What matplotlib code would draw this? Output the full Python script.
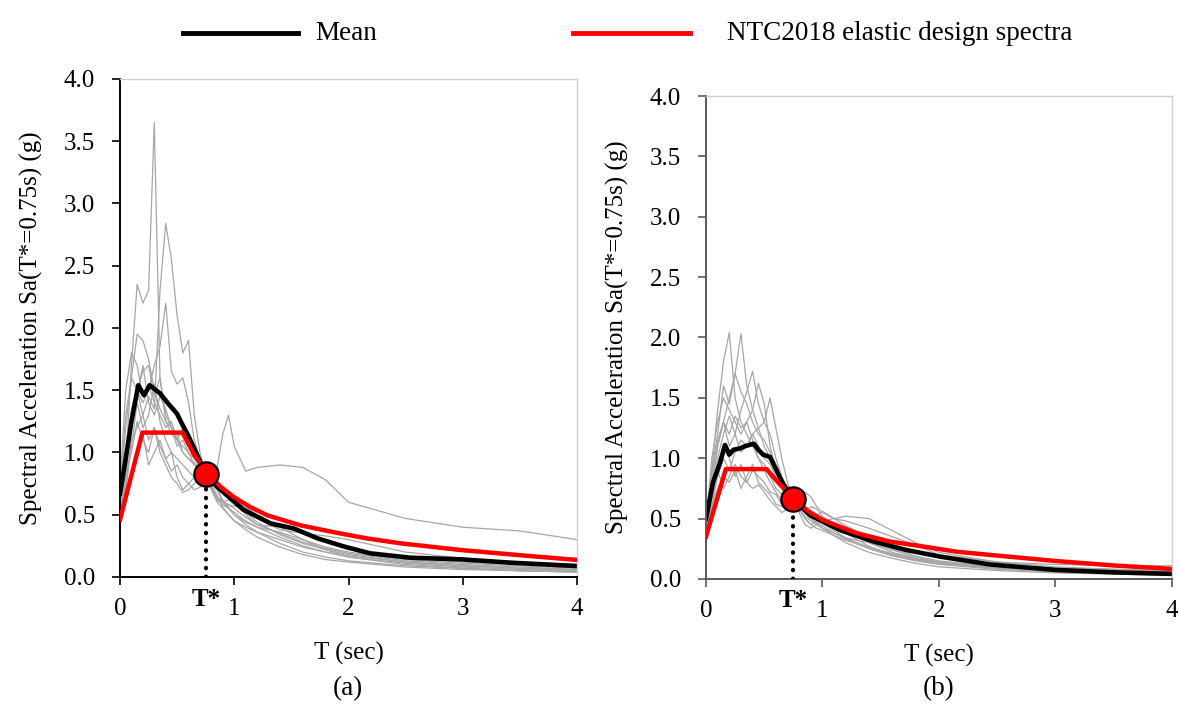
import numpy as np
import matplotlib
matplotlib.use("Agg")
import matplotlib.pyplot as plt
from matplotlib.lines import Line2D
from matplotlib.transforms import blended_transform_factory

plt.rcParams.update({
    "font.family": "Liberation Serif",
    "font.size": 18,
    "xtick.direction": "out",
    "ytick.direction": "out",
})

# ── Period grid for the scaled records ───────────────────────────────────────
T_REC = [0, 0.05, 0.1, 0.15, 0.2, 0.25, 0.3, 0.35, 0.4, 0.45, 0.5, 0.55, 0.6,
         0.65, 0.7, 0.75, 0.8, 0.85, 0.9, 0.95, 1.0, 1.1, 1.2, 1.4, 1.6, 1.8,
         2.0, 2.5, 3.0, 3.5, 4.0]

# ── Panel (a): records scaled to Sa(T*=0.75s) ────────────────────────────────
REC_A = [
    [0.55, 0.9, 1.7, 2.35, 2.2, 2.3, 3.65, 1.6, 1.25, 1.15, 1.1, 1.05, 1.0, 0.95, 0.9, 0.83, 0.72, 0.62, 0.58, 0.55, 0.52, 0.45, 0.40, 0.32, 0.25, 0.2, 0.17, 0.12, 0.09, 0.07, 0.05],
    [0.5, 0.75, 1.1, 1.2, 1.3, 1.45, 1.35, 2.3, 2.84, 2.55, 2.1, 1.8, 1.9, 1.3, 1.0, 0.83, 0.7, 0.6, 0.55, 0.5, 0.45, 0.4, 0.36, 0.3, 0.24, 0.2, 0.16, 0.11, 0.08, 0.06, 0.05],
    [0.6, 1.0, 1.3, 1.5, 1.4, 1.5, 1.7, 1.85, 2.2, 1.65, 1.55, 1.6, 1.4, 1.1, 0.95, 0.83, 0.7, 0.62, 0.6, 0.58, 0.55, 0.48, 0.42, 0.35, 0.28, 0.23, 0.19, 0.13, 0.1, 0.08, 0.06],
    [0.7, 1.3, 1.6, 1.95, 1.9, 1.75, 1.5, 1.35, 1.25, 1.2, 1.1, 1.2, 1.05, 0.95, 0.9, 0.83, 0.75, 0.65, 0.6, 0.55, 0.5, 0.44, 0.4, 0.36, 0.3, 0.24, 0.2, 0.14, 0.11, 0.09, 0.07],
    [0.45, 0.6, 0.8, 1.0, 1.15, 0.9, 1.0, 1.1, 0.95, 0.85, 0.9, 0.8, 0.75, 0.7, 0.72, 0.83, 0.78, 0.88, 1.15, 1.3, 1.05, 0.85, 0.88, 0.9, 0.88, 0.78, 0.6, 0.47, 0.4, 0.37, 0.30],
    [0.75, 1.5, 1.8, 1.7, 1.45, 1.55, 1.4, 1.3, 1.2, 1.25, 1.1, 1.0, 0.95, 0.9, 0.88, 0.83, 0.76, 0.7, 0.62, 0.56, 0.5, 0.42, 0.36, 0.27, 0.2, 0.16, 0.13, 0.09, 0.07, 0.05, 0.04],
    [0.5, 0.9, 1.2, 1.45, 1.7, 1.4, 1.3, 1.45, 1.35, 1.2, 1.05, 1.1, 1.0, 0.9, 0.85, 0.83, 0.8, 0.72, 0.68, 0.66, 0.63, 0.55, 0.47, 0.38, 0.35, 0.33, 0.3, 0.2, 0.15, 0.12, 0.1],
    [0.55, 0.85, 1.0, 1.25, 1.1, 1.0, 1.2, 1.05, 0.95, 1.0, 0.8, 0.7, 0.75, 0.8, 0.82, 0.83, 0.8, 0.75, 0.7, 0.68, 0.62, 0.5, 0.42, 0.4, 0.36, 0.28, 0.22, 0.15, 0.12, 0.1, 0.08],
    [0.45, 0.7, 1.05, 1.4, 1.2, 1.3, 1.55, 1.25, 1.1, 1.0, 0.95, 0.9, 0.85, 0.8, 0.78, 0.83, 0.72, 0.65, 0.56, 0.5, 0.45, 0.38, 0.32, 0.24, 0.18, 0.14, 0.12, 0.08, 0.06, 0.05, 0.04],
    [0.65, 1.2, 1.6, 1.5, 1.65, 1.7, 1.45, 1.6, 1.3, 1.2, 1.15, 1.0, 0.95, 0.92, 0.87, 0.83, 0.74, 0.64, 0.6, 0.62, 0.6, 0.52, 0.44, 0.34, 0.27, 0.22, 0.18, 0.12, 0.09, 0.07, 0.06],
    [0.5, 0.8, 1.35, 1.5, 1.3, 1.1, 1.2, 1.0, 0.9, 0.8, 0.75, 0.68, 0.7, 0.75, 0.8, 0.83, 0.78, 0.7, 0.6, 0.58, 0.57, 0.56, 0.5, 0.4, 0.3, 0.22, 0.16, 0.1, 0.07, 0.05, 0.04],
]
T_MEAN_A = [0, 0.05, 0.1, 0.16, 0.21, 0.26, 0.35, 0.42, 0.5, 0.54, 0.6, 0.67, 0.75,
            0.85, 1.08, 1.32, 1.52, 1.73, 1.96, 2.19, 2.54, 2.98, 3.42, 4.0]
SA_MEAN_A = [0.67, 0.95, 1.25, 1.54, 1.46, 1.54, 1.475, 1.395, 1.31, 1.235, 1.13, 0.99, 0.83,
             0.725, 0.54, 0.43, 0.39, 0.31, 0.245, 0.19, 0.155, 0.142, 0.115, 0.088]
T_NTC_A = [0, 0.196, 0.547, 0.65, 0.76, 0.88, 1.0, 1.14, 1.29, 1.58, 1.87, 2.16, 2.46, 2.98, 3.5, 4.0]
SA_NTC_A = [0.46, 1.16, 1.16, 0.98, 0.835, 0.725, 0.64, 0.562, 0.495, 0.415, 0.36, 0.31, 0.27, 0.217, 0.175, 0.137]
SA_STAR_A = 0.83

# ── Panel (b) ─────────────────────────────────────────────────────────────────
REC_B = [
    [0.4, 0.9, 1.4, 1.8, 2.04, 1.5, 1.3, 1.2, 1.1, 1.0, 0.95, 0.85, 0.75, 0.7, 0.68, 0.66, 0.6, 0.55, 0.5, 0.46, 0.42, 0.36, 0.3, 0.22, 0.17, 0.13, 0.1, 0.07, 0.05, 0.04, 0.03],
    [0.45, 0.8, 1.1, 1.3, 1.5, 1.7, 2.03, 1.6, 1.4, 1.25, 1.1, 1.0, 0.9, 0.8, 0.72, 0.66, 0.62, 0.58, 0.55, 0.5, 0.46, 0.4, 0.34, 0.26, 0.2, 0.16, 0.13, 0.09, 0.06, 0.05, 0.04],
    [0.35, 0.7, 1.0, 1.2, 1.35, 1.2, 1.4, 1.55, 1.72, 1.45, 1.3, 1.2, 1.0, 0.85, 0.75, 0.66, 0.58, 0.52, 0.48, 0.45, 0.42, 0.38, 0.33, 0.25, 0.19, 0.15, 0.12, 0.08, 0.06, 0.05, 0.04],
    [0.4, 0.75, 1.1, 1.3, 1.2, 1.35, 1.25, 1.3, 1.4, 1.62, 1.45, 1.1, 0.9, 0.8, 0.7, 0.66, 0.62, 0.58, 0.52, 0.5, 0.5, 0.45, 0.38, 0.27, 0.2, 0.16, 0.13, 0.09, 0.07, 0.05, 0.04],
    [0.3, 0.6, 0.85, 1.0, 0.9, 1.05, 1.15, 1.1, 1.2, 1.25, 1.3, 1.5, 1.25, 1.0, 0.8, 0.66, 0.55, 0.45, 0.42, 0.45, 0.48, 0.5, 0.48, 0.42, 0.35, 0.28, 0.2, 0.14, 0.12, 0.11, 0.11],
    [0.45, 1.0, 1.3, 1.5, 1.4, 1.3, 1.2, 1.3, 1.15, 1.0, 0.9, 0.8, 0.72, 0.65, 0.62, 0.66, 0.7, 0.72, 0.68, 0.6, 0.55, 0.5, 0.52, 0.5, 0.4, 0.3, 0.22, 0.14, 0.1, 0.08, 0.06],
    [0.35, 0.6, 0.75, 0.85, 0.8, 0.9, 0.75, 0.85, 0.95, 0.8, 0.75, 0.7, 0.62, 0.6, 0.62, 0.66, 0.6, 0.5, 0.45, 0.48, 0.5, 0.45, 0.4, 0.3, 0.22, 0.17, 0.13, 0.09, 0.07, 0.05, 0.04],
    [0.4, 0.85, 1.15, 1.3, 1.1, 1.2, 1.05, 1.1, 1.2, 1.1, 1.0, 0.95, 0.85, 0.75, 0.68, 0.66, 0.58, 0.5, 0.45, 0.42, 0.4, 0.36, 0.32, 0.26, 0.21, 0.17, 0.14, 0.1, 0.08, 0.06, 0.05],
    [0.38, 0.7, 0.95, 1.1, 1.0, 0.85, 0.95, 0.8, 0.9, 0.85, 0.8, 0.72, 0.7, 0.62, 0.6, 0.66, 0.7, 0.6, 0.55, 0.52, 0.56, 0.5, 0.44, 0.35, 0.28, 0.22, 0.18, 0.12, 0.09, 0.08, 0.07],
    [0.42, 0.9, 1.2, 1.6, 1.45, 1.7, 1.55, 1.45, 1.3, 1.2, 1.15, 1.05, 0.95, 0.85, 0.75, 0.66, 0.6, 0.55, 0.5, 0.47, 0.44, 0.38, 0.34, 0.3, 0.24, 0.18, 0.14, 0.1, 0.07, 0.06, 0.05],
    [0.36, 0.65, 0.9, 0.75, 0.85, 0.95, 0.85, 0.8, 0.75, 0.78, 0.72, 0.65, 0.6, 0.55, 0.58, 0.66, 0.62, 0.55, 0.6, 0.58, 0.52, 0.45, 0.4, 0.32, 0.25, 0.19, 0.15, 0.1, 0.08, 0.06, 0.05],
]
T_MEAN_B = [0, 0.06, 0.12, 0.163, 0.2, 0.235, 0.29, 0.335, 0.41, 0.45, 0.49, 0.55, 0.59,
            0.66, 0.755, 0.89, 1.15, 1.44, 1.72, 2.01, 2.44, 3.0, 3.5, 4.0]
SA_MEAN_B = [0.5, 0.8, 0.96, 1.11, 1.03, 1.07, 1.08, 1.10, 1.12, 1.07, 1.03, 1.01, 0.93,
             0.79, 0.66, 0.53, 0.405, 0.31, 0.24, 0.185, 0.12, 0.075, 0.055, 0.042]
T_NTC_B = [0, 0.17, 0.52, 0.6, 0.755, 0.88, 1.0, 1.29, 1.58, 1.87, 2.15, 2.44, 3.0, 3.5, 4.0]
SA_NTC_B = [0.35, 0.91, 0.91, 0.82, 0.66, 0.56, 0.49, 0.38, 0.31, 0.268, 0.226, 0.199, 0.149, 0.112, 0.083]
SA_STAR_B = 0.66

T_STAR = 0.75
X_TICKS = [0, 1, 2, 3, 4]
Y_TICKS = [0.0, 0.5, 1.0, 1.5, 2.0, 2.5, 3.0, 3.5, 4.0]
YLABEL = "Spectral Acceleration Sa(T*=0.75s) (g)"

GREY = "#a6a6a6"
RED = "#ff0000"


def draw_panel(ax, recs, t_mean, sa_mean, t_ntc, sa_ntc, sa_star, spine_col):
    for r in recs:
        ax.plot(T_REC, r, color=GREY, lw=0.9, zorder=1)
    ax.plot(t_mean, sa_mean, color="black", lw=3.3, zorder=2,
            solid_joinstyle="round")
    ax.plot(t_ntc, sa_ntc, color=RED, lw=3.2, zorder=3)
    ax.plot([T_STAR, T_STAR], [0, sa_star], color="black", lw=3.0,
            ls=(0, (0.1, 2.0)), dash_capstyle="round", zorder=4)
    ax.plot([T_STAR], [sa_star], "o", ms=17.5, mfc=RED, mec="black",
            mew=1.6, zorder=5)
    trans = blended_transform_factory(ax.transData, ax.transAxes)
    ax.text(T_STAR, -0.045, "T*", transform=trans, ha="center", va="center",
            fontsize=18, fontweight="bold")

    ax.set_xlim(0, 4)
    ax.set_ylim(0, 4)
    ax.set_xticks(X_TICKS)
    ax.set_yticks(Y_TICKS)
    ax.set_yticklabels([f"{v:.1f}" for v in Y_TICKS])
    ax.tick_params(axis="y", length=6, width=1.2, pad=12, colors=spine_col,
                   labelcolor="black", labelsize=18)
    ax.tick_params(axis="x", length=6, width=1.2, pad=9, colors=spine_col,
                   labelcolor="black", labelsize=18)
    for s in ("left", "bottom"):
        ax.spines[s].set_color(spine_col)
        ax.spines[s].set_linewidth(1.4)
    for s in ("top", "right"):
        ax.spines[s].set_color("#cfcfcf")
        ax.spines[s].set_linewidth(1.0)
    ax.set_xlabel("T (sec)", fontsize=18, labelpad=16)
    ax.set_ylabel(YLABEL, fontsize=18, labelpad=15)


fig = plt.figure(figsize=(11.8, 7.04), dpi=100)
ax_a = fig.add_axes([0.1017, 0.1804, 0.3873, 0.7074])
ax_b = fig.add_axes([0.5983, 0.1776, 0.3949, 0.6860])

draw_panel(ax_a, REC_A, T_MEAN_A, SA_MEAN_A, T_NTC_A, SA_NTC_A, SA_STAR_A, "black")
draw_panel(ax_b, REC_B, T_MEAN_B, SA_MEAN_B, T_NTC_B, SA_NTC_B, SA_STAR_B, "#5a5a5a")

fig.text(348 / 1180, 1 - 689 / 704, "(a)", ha="center", va="center", fontsize=19.5)
fig.text(939 / 1180, 1 - 689 / 704, "(b)", ha="center", va="center", fontsize=19.5)

# ── Legend across the top ────────────────────────────────────────────────────
ly = 1 - 33 / 704
fig.add_artist(Line2D([183 / 1180, 298 / 1180], [ly, ly], color="black", lw=3.5))
fig.text(315 / 1180, ly, "Mean", ha="left", va="center", fontsize=19.5)
fig.add_artist(Line2D([573 / 1180, 690 / 1180], [ly, ly], color=RED, lw=3.5))
fig.text(727 / 1180, ly, "NTC2018 elastic design spectra", ha="left",
         va="center", fontsize=19.5)

fig.savefig("out.png", dpi=100)
